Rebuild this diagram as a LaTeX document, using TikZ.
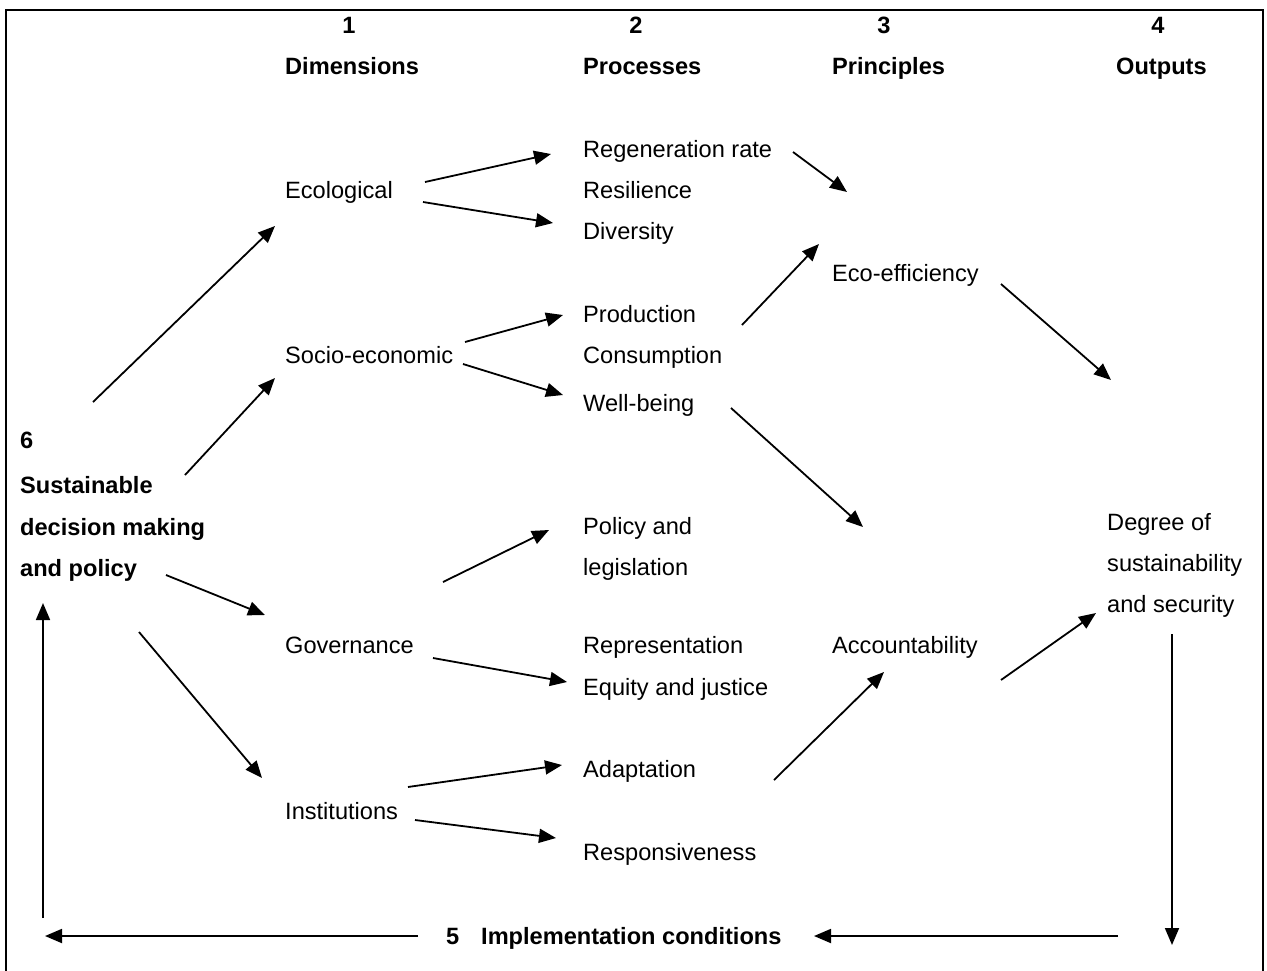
\documentclass[tikz,border=0pt]{standalone}
\usepackage{fontspec}
\setmainfont{Liberation Sans}
\usetikzlibrary{arrows.meta}
\tikzset{
  lbl/.style={anchor=base west,inner sep=0pt,font=\fontsize{23.6}{28}\selectfont},
  hdr/.style={anchor=base west,inner sep=0pt,font=\fontsize{23.6}{28}\selectfont\bfseries},
  num/.style={anchor=base,inner sep=0pt,font=\fontsize{23.6}{28}\selectfont\bfseries},
  conn/.style={line width=1.8pt,-{Triangle[length=17pt,width=14pt]}},
  frame/.style={line width=2.5pt}
}
\begin{document}
\begin{tikzpicture}[x=1pt,y=-1pt]
\useasboundingbox (0,0) rectangle (1267,970);
\draw[frame] (6,972) -- (6,10) -- (1263,10) -- (1263,972);
% headers
\node[num] (n1) at (349,33) {1};
\node[hdr] (h1) at (285,74) {Dimensions};
\node[num] (n2) at (636,33) {2};
\node[hdr] (h2) at (583,74) {Processes};
\node[num] (n3) at (884,33) {3};
\node[hdr] (h3) at (832,74) {Principles};
\node[num] (n4) at (1158,33) {4};
\node[hdr] (h4) at (1116,74) {Outputs};
% dimensions
\node[lbl] (eco) at (285,198) {Ecological};
\node[lbl] (soc) at (285,363) {Socio-economic};
\node[lbl] (gov) at (285,653) {Governance};
\node[lbl] (ins) at (285,819) {Institutions};
% processes
\node[lbl] (p1) at (583,157) {Regeneration rate};
\node[lbl] (p2) at (583,198) {Resilience};
\node[lbl] (p3) at (583,239) {Diversity};
\node[lbl] (p4) at (583,322) {Production};
\node[lbl] (p5) at (583,363) {Consumption};
\node[lbl] (p6) at (583,411) {Well-being};
\node[lbl] (p7) at (583,534) {Policy and};
\node[lbl] (p8) at (583,575) {legislation};
\node[lbl] (p9) at (583,653) {Representation};
\node[lbl] (p10) at (583,695) {Equity and justice};
\node[lbl] (p11) at (583,777) {Adaptation};
\node[lbl] (p12) at (583,860) {Responsiveness};
% principles
\node[lbl] (ecoeff) at (832,281) {Eco-efficiency};
\node[lbl] (acc) at (832,653) {Accountability};
% outputs
\node[lbl] (o1) at (1107,530) {Degree of};
\node[lbl] (o2) at (1107,571) {sustainability};
\node[lbl] (o3) at (1107,612) {and security};
% left block
\node[hdr] (s6) at (20,448) {6};
\node[hdr] (s1) at (20,493) {Sustainable};
\node[hdr] (s2) at (20,535) {decision making};
\node[hdr] (s3) at (20,576) {and policy};
% bottom
\node[hdr] (n5) at (446,944) {5};
\node[hdr] (impl) at (481,944) {Implementation conditions};
% connector ends
\coordinate (a1s) at (93,402);  \coordinate (a1e) at (275,226);
\coordinate (a2s) at (185,475); \coordinate (a2e) at (275,378);
\coordinate (a3s) at (166,575); \coordinate (a3e) at (265,615);
\coordinate (a4s) at (139,632); \coordinate (a4e) at (262,778);
\coordinate (a5s) at (425,182); \coordinate (a5e) at (551,154);
\coordinate (a6s) at (423,202); \coordinate (a6e) at (553,223);
\coordinate (a7s) at (465,342); \coordinate (a7e) at (563,315);
\coordinate (a8s) at (463,364); \coordinate (a8e) at (563,395);
\coordinate (a9s) at (443,582); \coordinate (a9e) at (549,530);
\coordinate (a10s) at (433,658); \coordinate (a10e) at (567,682);
\coordinate (a11s) at (408,787); \coordinate (a11e) at (562,765);
\coordinate (a12s) at (415,820); \coordinate (a12e) at (556,838);
\coordinate (a13s) at (793,152); \coordinate (a13e) at (847,192);
\coordinate (a14s) at (742,325); \coordinate (a14e) at (819,244);
\coordinate (a15s) at (731,408); \coordinate (a15e) at (863,527);
\coordinate (a16s) at (774,780); \coordinate (a16e) at (884,672);
\coordinate (a17s) at (1001,284); \coordinate (a17e) at (1111,380);
\coordinate (a18s) at (1001,680); \coordinate (a18e) at (1096,613);
\coordinate (a19s) at (1172,634); \coordinate (a19e) at (1172,945);
\coordinate (a20s) at (1118,936); \coordinate (a20e) at (814,936);
\coordinate (a21s) at (418,936); \coordinate (a21e) at (45,936);
\coordinate (a22s) at (43,918); \coordinate (a22e) at (43,603);
\foreach \i in {1,...,22} {\draw[conn] (a\i s) -- (a\i e);}
\end{tikzpicture}
\end{document}
